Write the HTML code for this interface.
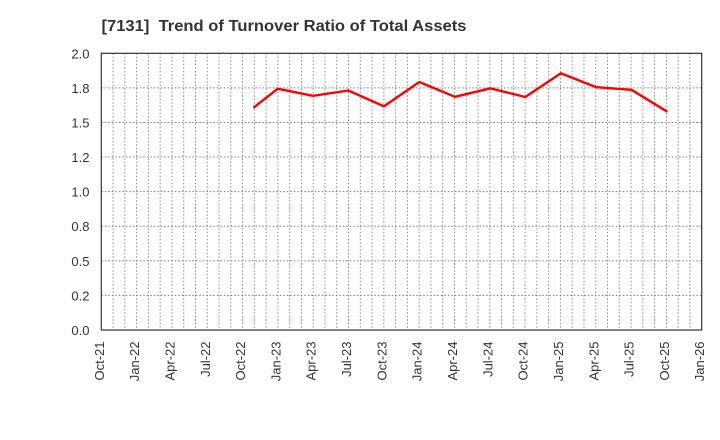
<!DOCTYPE html>
<html>
<head>
<meta charset="utf-8">
<style>
  html, body { margin: 0; padding: 0; background: #ffffff; }
  svg { display: block; }
  text { font-family: "Liberation Sans", Arial, sans-serif; fill: #333333; }
</style>
</head>
<body>
<svg width="720" height="440" viewBox="0 0 720 440" xmlns="http://www.w3.org/2000/svg">
  <rect x="0" y="0" width="720" height="440" fill="#ffffff"/>
  <text x="101.5" y="31" font-size="16" font-weight="bold" textLength="365" lengthAdjust="spacingAndGlyphs" style="white-space:pre" xml:space="preserve">[7131]  Trend of Turnover Ratio of Total Assets</text>

  <g id="vgrid" stroke="#8a8a8a" stroke-width="1" stroke-dasharray="1.5,2"></g>
  <g id="hgrid" stroke="#7a7a7a" stroke-width="1" stroke-dasharray="1.5,2"></g>

  <rect x="101.3" y="53.3" width="600.4" height="276.7" fill="none" stroke="#333333" stroke-width="1.2"/>

  <g id="ylabels" font-size="13" text-anchor="end"></g>
  <g id="xlabels" font-size="13" text-anchor="end"></g>

  <polyline fill="none" stroke="#ff0000" stroke-width="2.4" stroke-linejoin="round"
    points="253.3,107.8 277.7,88.7 313,95.8 348.3,90.5 384,106.3 419.3,82 455,96.8 490.3,88.3 525.3,97 560.8,73.3 596.3,87.2 631.5,89.8 667.3,111.7"/>
</svg>
<script>
(function(){
  var ns = "http://www.w3.org/2000/svg";
  var x0 = 101.3, x1 = 701.7, y0 = 53.3, y1 = 330;
  var mw = (x1 - x0) / 51;
  var vg = document.getElementById("vgrid");
  for (var m = 1; m < 51; m++) {
    var x = x0 + m * mw;
    var l = document.createElementNS(ns, "line");
    l.setAttribute("x1", x.toFixed(2)); l.setAttribute("x2", x.toFixed(2));
    l.setAttribute("y1", y0); l.setAttribute("y2", y1);
    vg.appendChild(l);
  }
  var hg = document.getElementById("hgrid");
  var yl = document.getElementById("ylabels");
  var labs = ["0.0","0.2","0.5","0.8","1.0","1.2","1.5","1.8","2.0"];
  for (var k = 0; k <= 8; k++) {
    var y = y1 - k * (y1 - y0) / 8;
    if (k > 0 && k < 8) {
      var l2 = document.createElementNS(ns, "line");
      l2.setAttribute("x1", x0); l2.setAttribute("x2", x1);
      l2.setAttribute("y1", y.toFixed(2)); l2.setAttribute("y2", y.toFixed(2));
      hg.appendChild(l2);
    }
    var t = document.createElementNS(ns, "text");
    t.setAttribute("x", 89.5);
    t.setAttribute("y", (y + 5).toFixed(2));
    t.textContent = labs[k];
    yl.appendChild(t);
  }
  var xl = document.getElementById("xlabels");
  var xs = ["Oct-21","Jan-22","Apr-22","Jul-22","Oct-22","Jan-23","Apr-23","Jul-23","Oct-23","Jan-24","Apr-24","Jul-24","Oct-24","Jan-25","Apr-25","Jul-25","Oct-25","Jan-26"];
  for (var i = 0; i < xs.length; i++) {
    var xx = x0 + i * 3 * mw + 2.5;
    var yy = 341.5;
    var t2 = document.createElementNS(ns, "text");
    t2.setAttribute("x", xx.toFixed(2));
    t2.setAttribute("y", yy);
    t2.setAttribute("transform", "rotate(-90 " + xx.toFixed(2) + " " + yy + ")");
    t2.textContent = xs[i];
    xl.appendChild(t2);
  }
})();
</script>
</body>
</html>
